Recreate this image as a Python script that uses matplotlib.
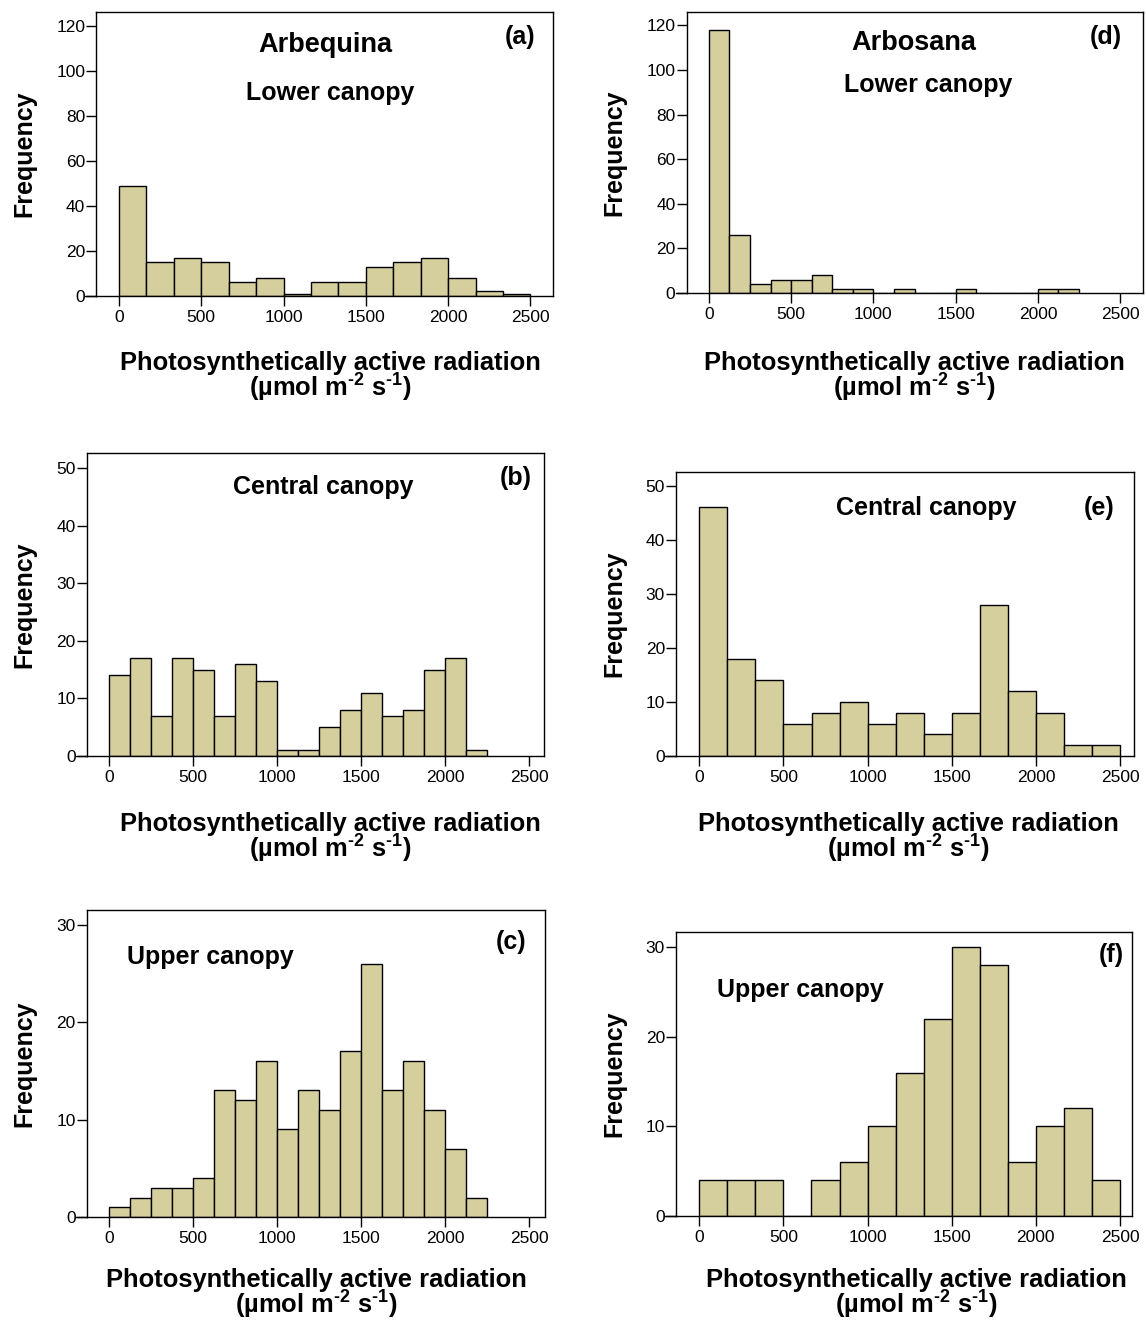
import numpy as np
import matplotlib
matplotlib.use("Agg")
import matplotlib.pyplot as plt

plt.rcParams['font.family'] = ['Liberation Sans', 'DejaVu Sans']
plt.rcParams['mathtext.fontset'] = 'custom'
plt.rcParams['mathtext.rm'] = 'Liberation Sans:bold'
plt.rcParams['mathtext.bf'] = 'Liberation Sans:bold'
plt.rcParams['mathtext.default'] = 'rm'

# Frequency counts per bin (PAR, umol m-2 s-1), bins start at 0
counts_a = [49, 15, 17, 15, 6, 8, 1, 6, 6, 13, 15, 17, 8, 2, 1]
counts_b = [14, 17, 7, 17, 15, 7, 16, 13, 1, 1, 5, 8, 11, 7, 8, 15, 17, 1]
counts_c = [1, 2, 3, 3, 4, 13, 12, 16, 9, 13, 11, 17, 26, 13, 16, 11, 7, 2]
counts_d = [118, 26, 4, 6, 6, 8, 2, 2, 0, 2, 0, 0, 2, 0, 0, 0, 2, 2]
counts_e = [46, 18, 14, 6, 8, 10, 6, 8, 4, 8, 28, 12, 8, 2, 2]
counts_f = [4, 4, 4, 0, 4, 6, 10, 16, 22, 30, 28, 6, 10, 12, 4]

width_a = 2500 / 15
width_b = 125
width_c = 125
width_d = 125
width_e = 2500 / 15
width_f = 2500 / 15

xticks = [0, 500, 1000, 1500, 2000, 2500]
yticks_lower = [0, 20, 40, 60, 80, 100, 120]
yticks_central = [0, 10, 20, 30, 40, 50]
yticks_upper = [0, 10, 20, 30]

W, H = 1146, 1321
fig = plt.figure(figsize=(W / 100, H / 100), dpi=100)
bar_color = '#D5CF9D'

def px_axes(l, r, t, b):
    return [l / W, 1 - b / H, (r - l) / W, (b - t) / H]

def ftext(x, y, s, **kw):
    fig.text(x / W, 1 - y / H, s, **kw)

panels = [
    # counts, width, yticks, ylim, xlim, axes box (px), label x, label baselines, ylabel x
    (counts_a, width_a, yticks_lower, 126, (-137, 2637), (96.4, 552.9, 12, 296), 330, (370, 397), 24),
    (counts_b, width_b, yticks_central, 52.6, (-131, 2585), (86.8, 543.6, 453, 756), 330, (830.5, 857.5), 24),
    (counts_c, width_c, yticks_upper, 31.5, (-131, 2591), (86.8, 544.6, 910, 1217), 316, (1287, 1314), 24),
    (counts_d, width_d, yticks_lower, 126, (-136, 2639), (686.5, 1143, 12, 293), 914, (370, 397), 614),
    (counts_e, width_e, yticks_central, 52.5, (-137, 2584), (676.2, 1134.3, 472, 756), 908, (830.5, 857.5), 614),
    (counts_f, width_f, yticks_upper, 31.7, (-137, 2570), (676.2, 1131.8, 932, 1216), 916, (1287, 1314), 614),
]

for counts, w, yt, ytop, xl, box, lx, lys, yx in panels:
    ax = fig.add_axes(px_axes(*box))
    left = np.arange(len(counts)) * w
    ax.bar(left, counts, width=w, align='edge', color=bar_color,
           edgecolor='black', linewidth=1.0)
    ax.set_xlim(*xl)
    ax.set_ylim(0, ytop)
    ax.set_xticks(xticks)
    ax.set_yticks(yt)
    ax.tick_params(axis='y', direction='out', length=7, width=1, pad=1, labelsize=12.5)
    ax.tick_params(axis='x', direction='out', length=7, width=1, pad=3, labelsize=12.5)
    for s in ax.spines.values():
        s.set_linewidth(1.0)
    # x axis line runs past the left spine, SPSS style
    ax.plot([-0.024, 0], [0, 0], transform=ax.transAxes, color='black',
            lw=1.0, clip_on=False)
    ftext(lx, lys[0], 'Photosynthetically active radiation', ha='center',
          va='baseline', fontsize=18.4, fontweight='bold')
    ftext(lx, lys[1], r'(µmol m$^{\text{-}2}$ s$^{\text{-}1}$)', ha='center',
          va='baseline', fontsize=18.4, fontweight='bold')
    ftext(yx, (box[2] + box[3]) / 2, 'Frequency', ha='center', va='center',
          rotation=90, fontsize=18, fontweight='bold')

# panel annotations
big = dict(ha='center', va='center', fontsize=19.5, fontweight='bold')
mid = dict(ha='center', va='center', fontsize=18, fontweight='bold')
ftext(325, 45, 'Arbequina', **big)
ftext(330, 93, 'Lower canopy', **mid)
ftext(520, 37, '(a)', **mid)
ftext(323, 487, 'Central canopy', **mid)
ftext(516, 478, '(b)', **mid)
ftext(210, 957, 'Upper canopy', **mid)
ftext(511, 942, '(c)', **mid)
ftext(914, 43, 'Arbosana', **big)
ftext(928, 85, 'Lower canopy', **mid)
ftext(1106, 37, '(d)', **mid)
ftext(926, 508, 'Central canopy', **mid)
ftext(1099, 508, '(e)', **mid)
ftext(800, 990, 'Upper canopy', **mid)
ftext(1111, 955, '(f)', **mid)

fig.savefig('out.png', dpi=100)
